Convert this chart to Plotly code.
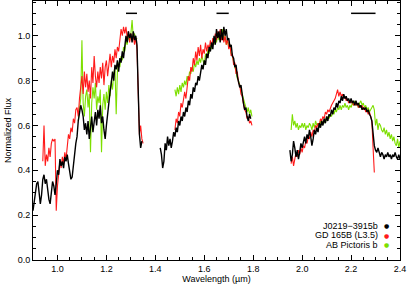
import numpy as np
import plotly.graph_objects as go

STEP = 0.005

# ---- J0219-3915b (black) ----
blk_j_start = 0.900
blk_j = [0.22,0.27,0.30,0.34,0.35,0.30,0.25,0.29,0.36,0.38,0.34,0.36,0.31,0.27,0.25,0.30,0.35,0.33,0.29,0.34,
         0.40,0.38,0.45,0.42,0.44,0.41,0.46,0.44,0.47,0.43,0.39,0.36,0.37,0.41,0.47,0.52,0.55,0.62,0.66,0.69,
         0.67,0.64,0.58,0.61,0.56,0.62,0.54,0.60,0.64,0.57,0.63,0.66,0.60,0.67,0.63,0.69,0.61,0.64,0.58,0.54,
         0.60,0.66,0.71,0.75,0.79,0.84,0.80,0.87,0.85,0.89,0.84,0.90,0.88,0.93,0.90,0.96,1.00,0.97,1.02,0.99,
         1.01,0.97,1.02,0.98,1.00,0.96,0.78,0.56,0.50,0.53]
blk_h_start = 1.420
blk_h = [0.50,0.47,0.41,0.44,0.52,0.49,0.55,0.51,0.54,0.50,0.53,0.57,0.55,0.59,0.57,0.62,0.60,0.64,0.62,0.66,
         0.64,0.68,0.66,0.71,0.69,0.74,0.72,0.77,0.75,0.79,0.78,0.82,0.80,0.84,0.87,0.85,0.89,0.87,0.92,0.90,
         0.95,0.93,0.97,0.94,1.00,0.96,1.03,0.99,1.02,0.97,1.03,0.98,1.04,1.00,1.03,0.98,0.99,0.95,0.96,0.91,
         0.90,0.86,0.87,0.82,0.80,0.77,0.78,0.73,0.70,0.67,0.68,0.64,0.62,0.65,0.63]
blk_k_start = 1.950
blk_k = [0.49,0.44,0.47,0.53,0.50,0.46,0.49,0.45,0.48,0.52,0.50,0.53,0.55,0.52,0.56,0.54,0.58,0.55,0.51,0.54,
         0.58,0.56,0.59,0.57,0.61,0.59,0.62,0.60,0.63,0.61,0.64,0.62,0.65,0.64,0.67,0.65,0.68,0.67,0.70,0.68,
         0.71,0.70,0.73,0.71,0.74,0.72,0.73,0.71,0.72,0.70,0.72,0.70,0.71,0.69,0.71,0.69,0.70,0.68,0.69,0.67,
         0.68,0.67,0.68,0.66,0.67,0.65,0.64,0.62,0.55,0.51,0.49,0.48,0.50,0.48,0.46,0.48,0.47,0.45,0.47,0.46,
         0.48,0.46,0.47,0.45,0.47,0.46,0.48,0.46,0.45,0.47,0.45]

# ---- GD 165B (red) ----
red_j_start = 0.940
red_j = [0.44,0.60,0.42,0.47,0.44,0.50,0.46,0.52,0.54,0.53,0.54,0.22,0.33,0.38,0.44,0.41,0.46,0.43,0.48,0.45,
         0.52,0.56,0.54,0.59,0.57,0.63,0.61,0.67,0.68,0.64,0.72,0.79,0.82,0.74,0.84,0.77,0.83,0.75,0.80,0.72,
         0.86,0.79,0.91,0.82,0.77,0.84,0.79,0.86,0.81,0.88,0.78,0.86,0.89,0.82,0.88,0.92,0.86,0.91,0.88,0.94,
         0.90,0.95,0.93,0.98,1.03,1.00,1.04,1.01,1.04,0.99,1.02,0.97,1.01,0.98,1.00,0.96,0.99,0.94,0.72,0.56,
         0.60,0.54,0.52]
red_h_start = 1.480
red_h = [0.58,0.63,0.61,0.66,0.64,0.70,0.68,0.73,0.75,0.72,0.78,0.82,0.80,0.86,0.84,0.90,0.87,0.93,0.89,0.95,
         0.91,0.96,0.90,0.94,0.92,0.97,0.93,0.96,0.94,0.98,0.95,0.99,0.97,1.01,0.98,1.02,0.99,1.03,0.98,1.01,
         0.97,1.00,0.96,0.99,0.94,0.96,0.91,0.92,0.87,0.88,0.83,0.84,0.79,0.78,0.74,0.73,0.70,0.67,0.66,0.63,
         0.64,0.61,0.62,0.60]
red_k_start = 1.955
red_k = [0.43,0.46,0.42,0.45,0.48,0.46,0.49,0.47,0.50,0.48,0.51,0.50,0.53,0.52,0.55,0.54,0.57,0.55,0.58,0.57,
         0.60,0.59,0.61,0.60,0.63,0.62,0.64,0.63,0.66,0.65,0.67,0.66,0.68,0.69,0.70,0.71,0.72,0.74,0.76,0.73,
         0.75,0.73,0.74,0.72,0.73,0.71,0.72,0.70,0.71,0.70,0.71,0.69,0.70,0.69,0.70,0.68,0.69,0.68,0.69,0.67,
         0.68,0.66,0.67,0.65,0.66,0.64,0.62,0.50,0.39]

# ---- AB Pictoris b (green) ----
grn_j_start = 1.085
grn_j = [0.62,0.66,0.72,0.98,0.70,0.64,0.73,0.76,0.68,0.74,0.48,0.70,0.77,0.72,0.79,0.67,0.73,0.70,0.76,0.48,
         0.69,0.74,0.67,0.75,0.70,0.78,0.73,0.80,0.76,0.83,0.86,0.65,0.84,0.88,0.86,0.91,0.89,0.95,0.93,0.98,
         0.96,1.00,0.98,1.01,1.07,0.99,1.01,0.98,0.99]
grn_h_start = 1.480
grn_h = [0.76,0.73,0.77,0.74,0.78,0.75,0.79,0.77,0.80,0.78,0.82,0.80,0.84,0.83,0.86,0.84,0.88,0.86,0.89,0.87,
         0.90,0.88,0.91,0.89,0.87,0.92,0.90,0.94,0.92,0.96,0.94,0.98,0.96,0.99,0.97,1.01,0.98,1.02,0.99,1.03,
         0.98,1.00,0.96,0.98,0.95,0.96,0.92,0.91,0.88,0.86,0.84,0.81,0.80,0.78,0.76,0.74,0.72,0.69,0.68,0.66,
         0.68,0.65,0.67,0.64]
grn_k_start = 1.955
grn_k = [0.58,0.65,0.60,0.62,0.59,0.61,0.58,0.60,0.59,0.61,0.59,0.61,0.58,0.60,0.59,0.61,0.60,0.58,0.61,0.59,
         0.62,0.60,0.61,0.59,0.62,0.60,0.62,0.61,0.63,0.62,0.64,0.63,0.65,0.64,0.66,0.65,0.67,0.66,0.68,0.67,
         0.69,0.67,0.69,0.68,0.70,0.68,0.69,0.67,0.69,0.68,0.70,0.69,0.71,0.69,0.70,0.68,0.70,0.71,0.69,0.70,
         0.68,0.69,0.67,0.68,0.66,0.67,0.68,0.69,0.67,0.60,0.63,0.58,0.61,0.60,0.58,0.57,0.59,0.56,0.58,0.55,
         0.57,0.54,0.56,0.53,0.55,0.52,0.51,0.54,0.50,0.53]

# bands marked at the top of the plot
band_lo = [1.280, 1.650, 2.200]
band_hi = [1.325, 1.700, 2.300]
band_y = 1.10

names = ["J0219\u22123915b", "GD 165B (L3.5)", "AB Pictoris b"]
colors = ["#000000", "#ff1a1a", "#7ddf00"]

def seg(start, vals):
    return start + STEP * np.arange(len(vals))

series = {
    0: [(blk_j_start, blk_j), (blk_h_start, blk_h), (blk_k_start, blk_k)],
    1: [(red_j_start, red_j), (red_h_start, red_h), (red_k_start, red_k)],
    2: [(grn_j_start, grn_j), (grn_h_start, grn_h), (grn_k_start, grn_k)],
}
widths = {0: 1.4, 1: 1.1, 2: 1.1}

fig = go.Figure()
for idx in [2, 1, 0]:
    for start, vals in series[idx]:
        fig.add_trace(go.Scatter(x=seg(start, vals), y=vals, mode="lines",
                                 line=dict(color=colors[idx], width=widths[idx]),
                                 showlegend=False, hoverinfo="skip"))

for lo, hi in zip(band_lo, band_hi):
    fig.add_shape(type="line", xref="x", yref="y", x0=lo, x1=hi, y0=band_y, y1=band_y,
                  line=dict(color="black", width=1.5))

for i, (n, c) in enumerate(zip(names, colors)):
    yy = 0.133 - i * 0.037
    fig.add_annotation(xref="paper", yref="paper", x=0.946, y=yy,
                       xanchor="right", yanchor="middle", showarrow=False, text=n,
                       font=dict(size=9, color="black", family="Liberation Sans"))
    fig.add_annotation(xref="paper", yref="paper", x=0.963, y=yy,
                       xanchor="center", yanchor="middle", showarrow=False, text="\u25cf",
                       font=dict(size=6, color=c, family="DejaVu Sans"))

axis_common = dict(showline=True, linecolor="black", linewidth=1, mirror="allticks",
                   ticks="inside", ticklen=5, tickwidth=1, tickcolor="black",
                   showgrid=False, zeroline=False,
                   tickfont=dict(size=9, color="black", family="Liberation Sans"))

fig.update_xaxes(range=[0.9, 2.4], dtick=0.2, tick0=0.0, tickformat=".1f",
                 minor=dict(dtick=0.05, ticks="inside", ticklen=3, tickcolor="black", showgrid=False),
                 title=dict(text="Wavelength (\u00b5m)", font=dict(size=9, color="black", family="Liberation Sans"), standoff=2),
                 **axis_common)
fig.update_yaxes(range=[0, 1.155], dtick=0.2, tick0=0.0, tickformat=".1f",
                 minor=dict(dtick=0.05, ticks="inside", ticklen=3, tickcolor="black", showgrid=False),
                 title=dict(text="Normalized Flux", font=dict(size=9, color="black", family="Liberation Sans"), standoff=4),
                 **axis_common)

fig.update_layout(width=407, height=288, margin=dict(l=33, r=7, t=1, b=28),
                  plot_bgcolor="white", paper_bgcolor="white", showlegend=False)

fig.write_html("out.html", config={"displayModeBar": False},
               post_script="document.body.style.margin='0px';")
